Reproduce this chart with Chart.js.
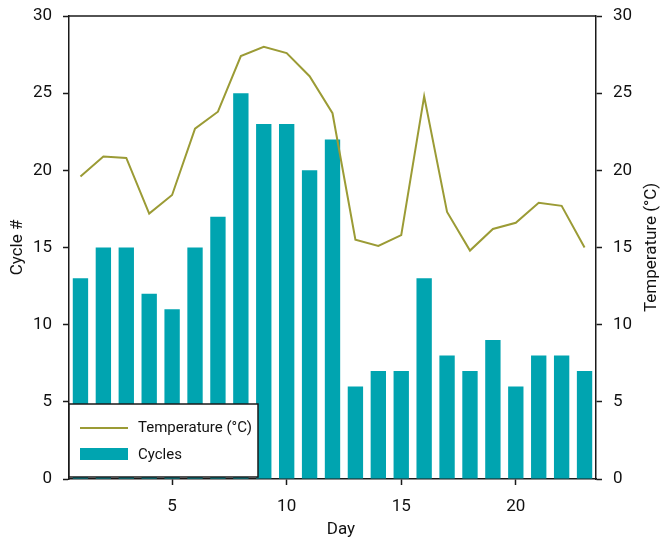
<!DOCTYPE html>
<html lang="en">
  <head>
    <meta charset="UTF-8" />
    <title>Cycles and Temperature</title>
    <script src="https://cdn.jsdelivr.net/npm/chart.js"></script>
    <style>
      body { margin: 0; background: #fff; }
    </style>
  </head>
  <body>
    <canvas id="cycleChart" width="663" height="541"></canvas>

    <script>
      const days = [1, 2, 3, 4, 5, 6, 7, 8, 9, 10, 11, 12, 13, 14, 15, 16, 17, 18, 19, 20, 21, 22, 23];
      const cycles = [13, 15, 15, 12, 11, 15, 17, 25, 23, 23, 20, 22, 6, 7, 7, 13, 8, 7, 9, 6, 8, 8, 7];
      const temperature = [19.6, 20.9, 20.8, 17.2, 18.4, 22.7, 23.8, 27.4, 28.0, 27.6, 26.1, 23.7,
                           15.5, 15.1, 15.8, 24.8, 17.3, 14.8, 16.2, 16.6, 17.9, 17.7, 15.0];
      const dayTicks = [5, 10, 15, 20];
      const rightTitle = 'Temperature (°C)';

      const axisColor = '#1a1a1a';
      const textColor = '#111';
      const fontFamily = "Roboto, 'Liberation Sans', sans-serif";

      Chart.defaults.font.family = fontFamily;
      Chart.defaults.font.size = 17;
      Chart.defaults.color = textColor;

      // top frame line + right axis title (Chart.js turns right titles the other way)
      const frameExtras = {
        id: 'frameExtras',
        afterDraw(chart) {
          const { ctx, chartArea } = chart;
          ctx.save();
          ctx.strokeStyle = axisColor;
          ctx.lineWidth = 1.5;
          ctx.beginPath();
          ctx.moveTo(chartArea.left, chartArea.top);
          ctx.lineTo(chartArea.right, chartArea.top);
          ctx.stroke();

          ctx.translate(chart.width - 11, (chartArea.top + chartArea.bottom) / 2);
          ctx.rotate(-Math.PI / 2);
          ctx.fillStyle = textColor;
          ctx.font = '17px ' + fontFamily;
          ctx.textAlign = 'center';
          ctx.textBaseline = 'middle';
          ctx.fillText(rightTitle, 0, 0);
          ctx.restore();
        },
      };

      // boxed legend sitting inside the plot, bottom left
      const boxLegend = {
        id: 'boxLegend',
        afterDraw(chart) {
          const { ctx, chartArea } = chart;
          const x = chartArea.left;
          const y = chartArea.bottom - 75;
          const w = 189;
          const h = 73;
          const sets = chart.data.datasets;
          ctx.save();
          ctx.fillStyle = '#fff';
          ctx.fillRect(x, y, w, h);
          ctx.strokeStyle = axisColor;
          ctx.lineWidth = 1.5;
          ctx.strokeRect(x, y, w, h);

          // line sample
          ctx.strokeStyle = sets[0].borderColor;
          ctx.lineWidth = 2;
          ctx.beginPath();
          ctx.moveTo(x + 11, y + 24);
          ctx.lineTo(x + 59, y + 24);
          ctx.stroke();
          // bar sample
          ctx.fillStyle = sets[1].backgroundColor;
          ctx.fillRect(x + 11, y + 44, 48, 12);

          ctx.fillStyle = textColor;
          ctx.font = '15px ' + fontFamily;
          ctx.textBaseline = 'middle';
          ctx.fillText(sets[0].label, x + 69, y + 24);
          ctx.fillText(sets[1].label, x + 69, y + 51);
          ctx.restore();
        },
      };

      // fixed width, and no extra room for the half-labels at the ends
      const fitY = (w) => (s) => {
        s.width = w;
        s.paddingTop = 0;
        s.paddingBottom = 0;
      };

      const ctx = document.getElementById('cycleChart').getContext('2d');
      new Chart(ctx, {
        type: 'bar',
        data: {
          datasets: [
            {
              type: 'line',
              label: 'Temperature (°C)',
              data: days.map((d, i) => ({ x: d, y: temperature[i] })),
              borderColor: '#9b9b35',
              borderWidth: 2,
              pointRadius: 0,
              tension: 0,
              yAxisID: 'y1',
            },
            {
              type: 'bar',
              label: 'Cycles',
              data: days.map((d, i) => ({ x: d, y: cycles[i] })),
              backgroundColor: '#00a4b0',
              barPercentage: 0.67,
              categoryPercentage: 1,
              yAxisID: 'y',
            },
          ],
        },
        options: {
          responsive: false,
          animation: false,
          layout: { padding: { top: 16, left: 0, right: 0, bottom: 0 } },
          plugins: {
            legend: { display: false },
            tooltip: { enabled: false },
          },
          scales: {
            x: {
              type: 'linear',
              min: 0.5,
              max: 23.5,
              offset: false,
              afterBuildTicks: (s) => { s.ticks = dayTicks.map((v) => ({ value: v })); },
              afterFit: (s) => { s.height = 62; },
              grid: { drawOnChartArea: false, offset: false, tickLength: 6, tickColor: axisColor, tickWidth: 1.5 },
              border: { color: axisColor, width: 1.5 },
              ticks: { padding: 12, maxRotation: 0 },
              title: { display: true, text: '    Day', padding: { top: 0, bottom: 1 } },
            },
            y: {
              position: 'left',
              min: 0,
              max: 30,
              ticks: { stepSize: 5, padding: 11 },
              afterFit: fitY(69),
              grid: { drawOnChartArea: false, tickLength: 6, tickColor: axisColor, tickWidth: 1.5 },
              border: { color: axisColor, width: 1.5 },
              title: { display: true, text: 'Cycle #', padding: { top: 8, bottom: 0 } },
            },
            y1: {
              position: 'right',
              min: 0,
              max: 30,
              ticks: { stepSize: 5, padding: 11 },
              afterFit: fitY(67),
              grid: { drawOnChartArea: false, tickLength: 6, tickColor: axisColor, tickWidth: 1.5 },
              border: { color: axisColor, width: 1.5 },
              title: { display: false },
            },
          },
        },
        plugins: [frameExtras, boxLegend],
      });
    </script>
  </body>
</html>
